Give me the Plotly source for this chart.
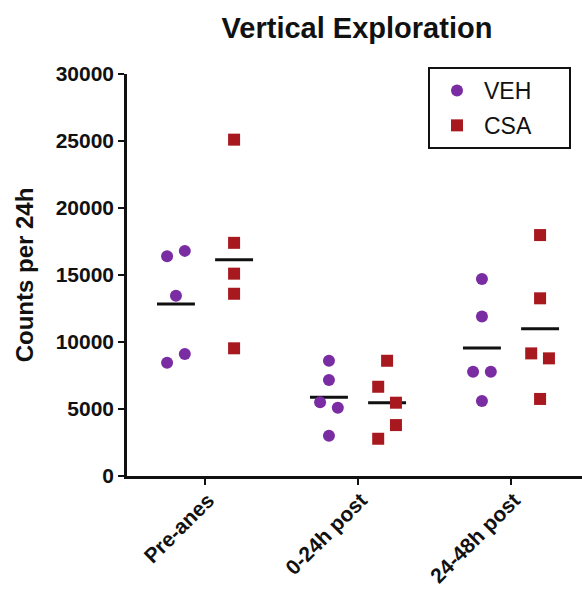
import numpy as np
import plotly.graph_objects as go

# ---- data ----
categories = ["Pre-anes", "0-24h post", "24-48h post"]
veh_values = [
    [16400, 16800, 13450, 9100, 8460],
    [8600, 7160, 5500, 5100, 3000],
    [14700, 11900, 7780, 7780, 5600],
]
csa_values = [
    [25100, 17400, 15100, 13600, 9530],
    [8600, 6660, 5470, 3800, 2780],
    [17980, 13260, 9150, 8780, 5750],
]
y_ticks = [0, 5000, 10000, 15000, 20000, 25000, 30000]

# ---- layout helpers (positions / styles) ----
veh_jitter = [[-1, 1, 0, 1, -1], [0, 0, -1, 1, 0], [0, 0, -1, 1, 0]]
csa_jitter = [[0, 0, 0, 0, 0], [0, -1, 1, 1, -1], [0, 0, -1, 1, 0]]
GROUP_OFF = 0.19
JIT_STEP = 0.058
MEAN_HALF = 0.124
PURPLE = "#7A2DA3"
RED = "#A8191F"
FONT = "Liberation Sans, Arial, sans-serif"
PAD = "\u00a0" * 5

fig = go.Figure()

def add_group(values, jitter, offset, name, color, symbol):
    xs, ys = [], []
    mx, my = [], []
    for i, (vals, jit) in enumerate(zip(values, jitter)):
        for v, j in zip(vals, jit):
            xs.append(i + offset + j * JIT_STEP)
            ys.append(v)
        m = float(np.mean(vals))
        mx += [i + offset - MEAN_HALF, i + offset + MEAN_HALF, None]
        my += [m, m, None]
    fig.add_trace(go.Scatter(x=mx, y=my, mode="lines", showlegend=False,
                             line=dict(color="#111111", width=3), hoverinfo="skip"))
    fig.add_trace(go.Scatter(x=xs, y=ys, mode="markers", name=name + PAD,
                             legendgroup=name,
                             marker=dict(color=color, symbol=symbol, size=12,
                                         line=dict(width=0))))

add_group(veh_values, veh_jitter, -GROUP_OFF, "VEH", PURPLE, "circle")
add_group(csa_values, csa_jitter, GROUP_OFF, "CSA", RED, "square")

fig.update_layout(
    width=582, height=590,
    paper_bgcolor="white", plot_bgcolor="white",
    margin=dict(l=127, r=0, t=74, b=114, autoexpand=False),
    font=dict(family=FONT, color="#111111"),
    title=dict(text="Vertical Exploration", x=357 / 582, xanchor="center",
               y=1 - 28 / 590, yanchor="middle",
               font=dict(size=29, weight="bold", family=FONT, color="#111111")),
    legend=dict(x=(428 - 127) / 455, y=(476 - 67) / 402, xanchor="left", yanchor="top",
                bordercolor="#111111", borderwidth=2, bgcolor="white",
                font=dict(size=23, family=FONT, color="#111111"),
                itemwidth=44, tracegroupgap=2,
                itemsizing="trace"),
    showlegend=True,
)
fig.update_xaxes(
    range=[-0.51, 2.464], automargin=False,
    tickvals=list(range(len(categories))), ticktext=categories,
    tickangle=-45, ticks="outside", ticklen=6, tickwidth=2, tickcolor="#111111",
    ticklabelstandoff=-5, ticklabelshift=3,
    showline=True, linecolor="#111111", linewidth=2.5,
    showgrid=False, zeroline=False,
    tickfont=dict(size=21, weight="bold", family=FONT, color="#111111"),
)
fig.update_yaxes(
    range=[0, 30000], tickvals=y_ticks, tickformat="d", automargin=False,
    ticks="outside", ticklen=6, tickwidth=2, tickcolor="#111111",
    showline=True, linecolor="#111111", linewidth=2.5,
    showgrid=False, zeroline=False,
    tickfont=dict(size=21, weight="bold", family=FONT, color="#111111"),
    title=dict(text="Counts per 24h", standoff=16,
               font=dict(size=24, weight="bold", family=FONT, color="#111111")),
)

fig.write_html("out.html", config={"displayModeBar": False},
               post_script="document.body.style.margin='0';")
